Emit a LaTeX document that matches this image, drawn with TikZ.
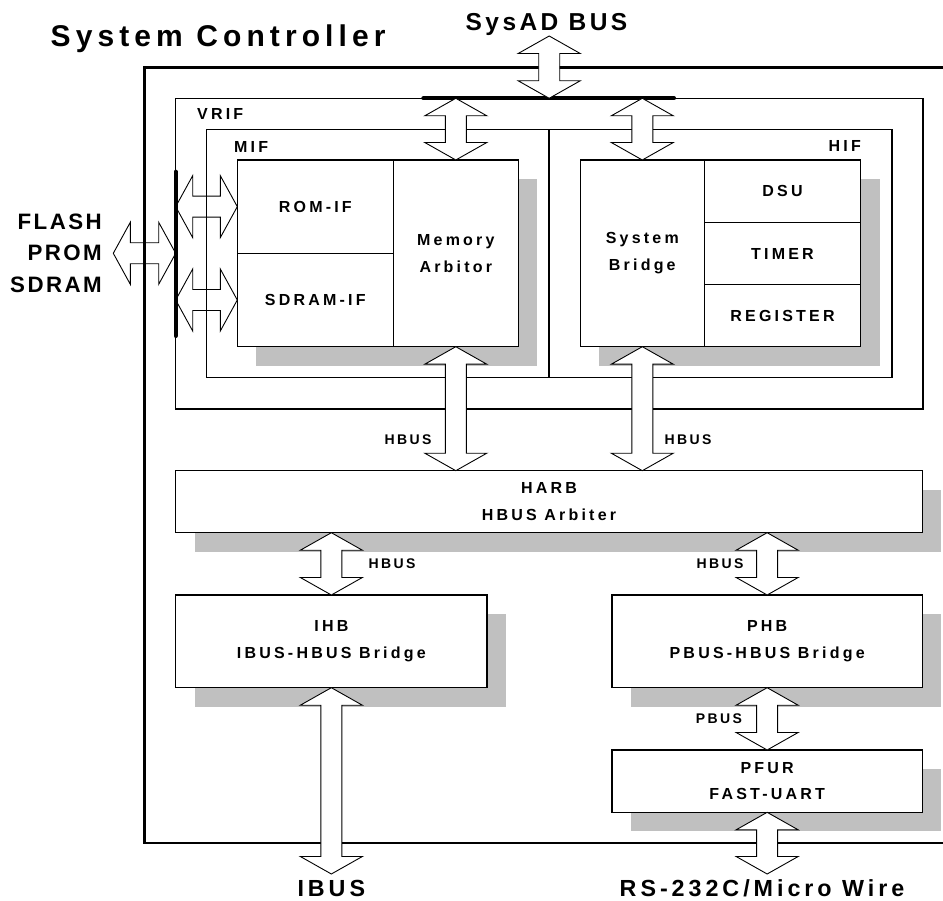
\documentclass[tikz,border=0pt]{standalone}
\usepackage{fontspec}
\setmainfont{Liberation Sans}
\newfontfamily\fcellfont[LetterSpace=20]{Liberation Sans}
\newfontfamily\ftitlefont[LetterSpace=17]{Liberation Sans}
\newfontfamily\fsysadfont[LetterSpace=14]{Liberation Sans}
\newfontfamily\fbigfont[LetterSpace=11]{Liberation Sans}
\newfontfamily\fbotfont[LetterSpace=17]{Liberation Sans}
\usetikzlibrary{calc}
\definecolor{shadowgray}{HTML}{C0C0C0}
\pgfdeclarelayer{background}
\pgfsetlayers{background,main}

\newcommand\vdarrow[2]{%
  \path[vbusarrow] let \p1=#1, \p2=#2 in
  (\x1,\y1) -- (\x1+31pt,\y1-17.5pt) -- (\x1+10.5pt,\y1-17.5pt) -- (\x1+10.5pt,\y2+17.5pt) -- (\x1+31pt,\y2+17.5pt) -- (\x1,\y2)
  -- (\x1-31pt,\y2+17.5pt) -- (\x1-10.5pt,\y2+17.5pt) -- (\x1-10.5pt,\y1-17.5pt) -- (\x1-31pt,\y1-17.5pt) -- cycle;}
\newcommand\hdarrow[2]{%
  \path[hbusarrow] let \p1=#1, \p2=#2 in
  (\x1,\y1) -- (\x1+17pt,\y1+31pt) -- (\x1+17pt,\y1+10.5pt) -- (\x2-17pt,\y1+10.5pt) -- (\x2-17pt,\y1+31pt) -- (\x2,\y1)
  -- (\x2-17pt,\y1-31pt) -- (\x2-17pt,\y1-10.5pt) -- (\x1+17pt,\y1-10.5pt) -- (\x1+17pt,\y1-31pt) -- cycle;}

\begin{document}
\begin{tikzpicture}[x=1pt,y=-1pt,
  frame/.style={line width=2.2pt, draw=black},
  thinline/.style={line width=1.1pt, draw=black},
  bar/.style={line width=4pt, line cap=round, draw=black},
  cell/.style={draw=black, line width=1.1pt, fill=white, inner sep=0pt, outer sep=0pt,
    anchor=north west, align=center, font={\fcellfont\bfseries\fontsize{16}{26.5}\selectfont}},
  lbl/.style={inner sep=0pt, font={\fcellfont\bfseries\fontsize{16}{19}\selectfont}},
  small/.style={inner sep=0pt, font={\fbotfont\bfseries\fontsize{14}{16}\selectfont}},
  biglbl/.style={inner sep=0pt, align=right, font={\fbigfont\bfseries\fontsize{22.3}{31.3}\selectfont}},
  botlbl/.style={inner sep=0pt, font={\ftitlefont\bfseries\fontsize{23.3}{26}\selectfont}},
  shadowbox/.style={fill=shadowgray},
  vbusarrow/.style={draw=black, line width=0.9pt, fill=white, line join=miter},
  hbusarrow/.style={draw=black, line width=0.9pt, line join=miter}]
\useasboundingbox (0,0) rectangle (943,901);

% titles
\node[inner sep=0pt, anchor=base west, font={\ftitlefont\bfseries\fontsize{30}{32}\selectfont}] (title) at (50.5,46.7) {System Controller};
\node[inner sep=0pt, anchor=base, font={\fsysadfont\bfseries\fontsize{24.5}{28}\selectfont}] (sysad) at (546.5,30.7) {SysAD BUS};

% outer frame
\draw[frame] (943,67.5) -| (144.5,843.3) -- (943,843.3);

% VRIF
\draw[thinline] (175.7,98.3) rectangle (923,409);
\node[lbl, anchor=west] (vrif) at (197,114) {VRIF};
% MIF / HIF container
\draw[thinline] (206.7,129.3) rectangle (892,377.5);
\draw[thinline] (549,129.3) -- (549,377.5);
\node[lbl, anchor=west] (miflbl) at (234,146.7) {MIF};
\node[lbl, anchor=east] (hiflbl) at (861,145.7) {HIF};

% cells
\node[cell, minimum width=156pt, minimum height=93.3pt] (romif) at (237.3,160) {ROM-IF};
\node[cell, minimum width=156pt, minimum height=93.4pt] (sdramif) at (237.3,253.3) {SDRAM-IF};
\node[cell, minimum width=125pt, minimum height=186.7pt] (marb) at (393.3,160) {Memory\\Arbitor};
\node[cell, minimum width=124pt, minimum height=186.7pt] (sbridge) at (580.3,160) {System\\Bridge};
\node[cell, minimum width=156.4pt, minimum height=62.7pt] (dsu) at (704.3,160) {DSU};
\node[cell, minimum width=156.4pt, minimum height=61.6pt] (timer) at (704.3,222.7) {TIMER};
\node[cell, minimum width=156.4pt, minimum height=62.4pt] (reg) at (704.3,284.3) {REGISTER};
\node[cell, minimum width=746.6pt, minimum height=62pt] (harb) at (175.7,470.7) {HARB\\HBUS Arbiter};
\node[cell, minimum width=311.3pt, minimum height=92.7pt] (ihb) at (175.7,595) {IHB\\IBUS-HBUS Bridge};
\node[cell, minimum width=310.3pt, minimum height=92.7pt] (phb) at (612,595) {PHB\\PBUS-HBUS Bridge};
\node[cell, minimum width=310.3pt, minimum height=62.3pt] (pfur) at (612,750) {PFUR\\FAST-UART};

% shadows
\begin{pgfonlayer}{background}
\fill[shadowbox] ($(romif.north west)+(19pt,-19pt)$) rectangle ($(marb.south east)+(19pt,-19pt)$);
\fill[shadowbox] ($(sbridge.north west)+(19pt,-19pt)$) rectangle ($(reg.south east)+(19pt,-19pt)$);
\foreach \n in {harb,ihb,phb,pfur}
  \fill[shadowbox] ($(\n.north west)+(19pt,-19pt)$) rectangle ($(\n.south east)+(19pt,-19pt)$);
\end{pgfonlayer}

% buses
\coordinate (busL) at (423.3,98.3);
\coordinate (busR) at (674,98.3);
\draw[bar] (busL) -- (busR);
\coordinate (memT) at (175.7,171.7);
\coordinate (memB) at (175.7,336);
\draw[bar] (memT) -- (memB);

% vertical bus arrows
\coordinate (sysadtip) at (549.2,36);
\vdarrow{(sysadtip)}{(sysadtip |- busL)}
\vdarrow{(marb.north |- busL)}{(marb.north)}
\vdarrow{(sbridge.north |- busL)}{(sbridge.north)}
\vdarrow{(marb.south)}{(marb.south |- harb.north)}
\vdarrow{(sbridge.south)}{(sbridge.south |- harb.north)}
\vdarrow{(ihb.north |- harb.south)}{(ihb.north)}
\vdarrow{(phb.north |- harb.south)}{(phb.north)}
\coordinate (ibustip) at (331.3,874);
\vdarrow{(ihb.south)}{(ibustip)}
\vdarrow{(phb.south)}{(pfur.north)}
\vdarrow{(pfur.south)}{(pfur.south |- ibustip)}

% horizontal bus arrows
\hdarrow{(memT |- romif.west)}{(romif.west)}
\hdarrow{(memT |- sdramif.west)}{(sdramif.west)}
\coordinate (flashtip) at (113.3,253.3);
\hdarrow{(flashtip)}{(flashtip -| memT)}

% bus labels
\node[small] (hbus1) at (408,440) {HBUS};
\node[small] (hbus2) at (688,440) {HBUS};
\node[small] (hbus3) at (392,563.3) {HBUS};
\node[small] (hbus4) at (720,563.3) {HBUS};
\node[small] (pbus) at (719,718.3) {PBUS};

\node[biglbl, anchor=east] (flash) at (102,253.3) {FLASH\\PROM\\SDRAM};
\node[botlbl, anchor=base] (ibus) at (331.3,896.7) {IBUS};
\node[botlbl, anchor=base] (rs) at (762,896.7) {RS-232C/Micro Wire};
\end{tikzpicture}
\end{document}
